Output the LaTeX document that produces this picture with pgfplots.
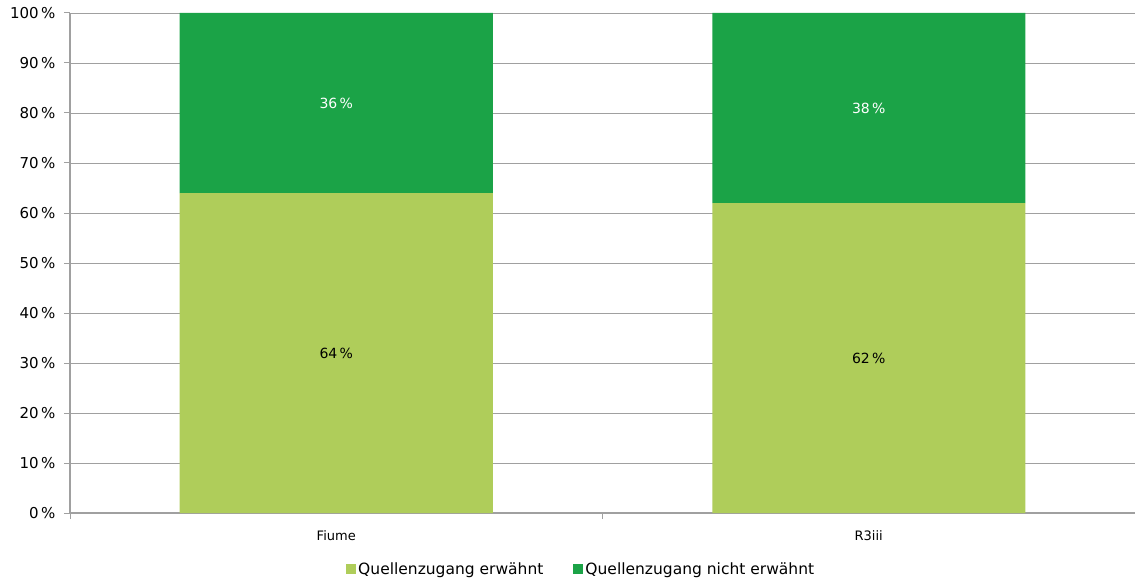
\documentclass[border=0pt]{standalone}
\usepackage{pgfplots}
\pgfplotsset{compat=1.18}
\usepackage{fontspec}
\setmainfont{DejaVu Sans}
\definecolor{lgreen}{HTML}{AFCD5A}
\definecolor{dgreen}{HTML}{1BA347}
\definecolor{gridgray}{HTML}{A0A0A0}
\begin{document}
\begin{tikzpicture}
\begin{axis}[
  scale only axis, width=1065pt, height=500pt,
  ybar stacked, bar width=313pt,
  xmin=-0.5, xmax=1.5, ymin=0, ymax=100,
  xtick={0,1}, xticklabels={Fiume,R3iii},
  xticklabel style={font=\fontsize{13}{15}\selectfont, yshift=-14pt},
  minor xtick={-0.5,0.5,1.5},
  major tick length=0pt,
  minor tick length=6pt,
  xtick style={draw=gridgray, line width=1pt},
  ytick={0,10,...,100},
  yticklabel={\pgfmathprintnumber{\tick}\,\%},
  yticklabel style={font=\fontsize{15}{17}\selectfont, xshift=-11pt},
  /pgf/number format/assume math mode=true,
  ytick style={draw=gridgray, line width=1pt},
  extra y ticks={0,10,...,100}, extra y tick labels={},
  extra y tick style={major tick length=6pt, tick align=outside, grid=none},
  ymajorgrids, major grid style={draw=gridgray, line width=0.9pt},
  axis x line*=bottom, axis y line*=left,
  axis line style={draw=gridgray, line width=1.2pt, -},
  tick align=outside,
  clip=false,
  nodes near coords={\pgfmathprintnumber{\pgfplotspointmeta}\,\%},
  every node near coord/.append style={font=\fontsize{14}{16}\selectfont},
  legend style={at={(0.48,-0.112)}, anchor=center, draw=none, legend columns=2,
    font=\fontsize{15.5}{18}\selectfont, /tikz/every even column/.append style={column sep=28pt}},
  legend image code/.code={\fill[#1] (2pt,-5pt) rectangle (12pt,5pt);},
]
\addplot[fill=lgreen, draw=none, nodes near coords style={text=black}] coordinates {(0,64) (1,62)};
\addplot[fill=dgreen, draw=none, nodes near coords style={text=white}] coordinates {(0,36) (1,38)};
\legend{Quellenzugang erwähnt, Quellenzugang nicht erwähnt}
\end{axis}
\pgfresetboundingbox
\path[use as bounding box] ([shift={(-70pt,-65pt)}]current axis.south west) rectangle ([shift={(0pt,13pt)}]current axis.north east);
\end{tikzpicture}
\end{document}
